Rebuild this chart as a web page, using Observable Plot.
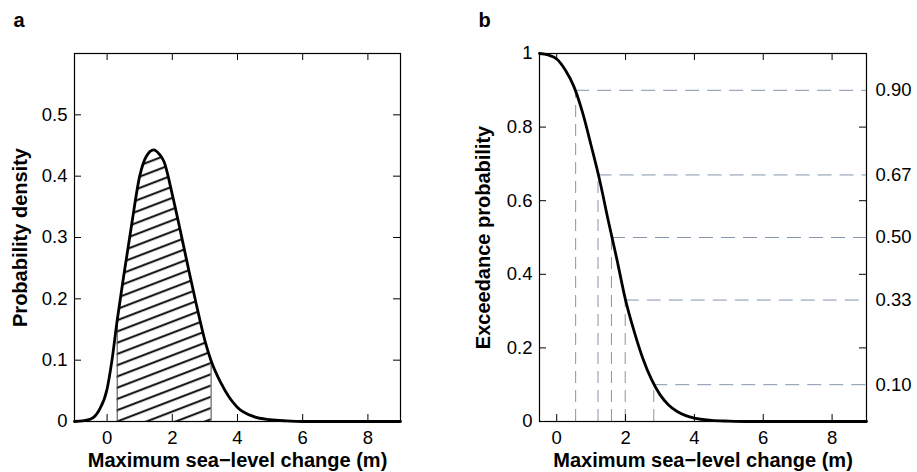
<!DOCTYPE html>
<html>
<head>
<meta charset="utf-8">
<script src="https://cdn.jsdelivr.net/npm/d3@7"></script>
<script src="https://cdn.jsdelivr.net/npm/@observablehq/plot@0.6"></script>
<style>
  html, body { margin: 0; padding: 0; background: #fff; }
  #wrap { display: flex; width: 917px; height: 472px; }
  #wrap svg { display: block; }
</style>
</head>
<body>
<svg width="0" height="0" style="position:absolute">
  <defs>
    <pattern id="hatch" patternUnits="userSpaceOnUse" width="40" height="10.5" patternTransform="rotate(-21)">
      <line x1="-5" y1="5" x2="45" y2="5" stroke="#000" stroke-width="1.7"></line>
    </pattern>
  </defs>
</svg>
<div id="wrap"></div>
<script>
// ---- Panel a: probability density ----
const densX = [-1, -0.75, -0.5, -0.25, 0, 0.15, 0.31, 0.5, 0.75, 1.0, 1.2, 1.43, 1.6, 1.75, 2.0, 2.25, 2.5, 2.75, 3.0, 3.19, 3.5, 3.75, 4.0, 4.5, 5.0, 5.5, 6, 9];
const densY = [0, 0.001, 0.004, 0.018, 0.053, 0.1, 0.165, 0.234, 0.32, 0.40, 0.432, 0.443, 0.436, 0.423, 0.37, 0.31, 0.248, 0.188, 0.132, 0.099, 0.062, 0.039, 0.023, 0.008, 0.003, 0.001, 0, 0];
const hatchRange = [0.31, 3.19];
const xDomainA = [-1, 9];
const yDomainA = [0, 0.6];
const xTicks = [0, 2, 4, 6, 8];
const xTickLabels = ["0", "2", "4", "6", "8"];
const yTicksA = [0, 0.1, 0.2, 0.3, 0.4, 0.5];
const yTickLabelsA = ["0", "0.1", "0.2", "0.3", "0.4", "0.5"];

// ---- Panel b: exceedance probability ----
const exX = [-0.5, -0.25, 0, 0.25, 0.5, 0.75, 1.0, 1.25, 1.5, 1.75, 2.0, 2.25, 2.5, 2.75, 3.0, 3.25, 3.5, 3.75, 4.0, 4.5, 5.0, 5.5, 9];
const exY = [1.0, 0.996, 0.985, 0.955, 0.91, 0.84, 0.75, 0.655, 0.545, 0.44, 0.33, 0.245, 0.172, 0.115, 0.073, 0.045, 0.027, 0.016, 0.009, 0.003, 0.001, 0, 0];
const xDomainB = [-0.5, 9];
const yDomainB = [0, 1];
const yTicksB = [0, 0.2, 0.4, 0.6, 0.8, 1];
const yTickLabelsB = ["0", "0.2", "0.4", "0.6", "0.8", "1"];
const qLevels = [0.90, 0.67, 0.50, 0.33, 0.10];
const qX = [0.55, 1.20, 1.59, 1.99, 2.82];
const qLabels = ["0.90", "0.67", "0.50", "0.33", "0.10"];

const xTitle = "Maximum sea\u2212level change (m)";
const yTitleA = "Probability density";
const yTitleB = "Exceedance probability";

const dens = densX.map((x, i) => ({x, y: densY[i]}));
const exc = exX.map((x, i) => ({x, y: exY[i]}));
const quant = qLevels.map((p, i) => ({p, x: qX[i], label: qLabels[i]}));

const FONT = "'Liberation Sans', Arial, Helvetica, sans-serif";
const H = 472, MT = 53, MB = 51;
const PH = H - MT - MB;
const DASH = "#8496ab";

function panel({width, ml, mr, xDomain, yDomain, yTicks, yLabels, yTitle, yTitleDx, letter, marks}) {
  const PW = width - ml - mr;
  const yInner = yTicks.filter(v => v > yDomain[0] && v < yDomain[1]);
  return Plot.plot({
    width, height: H,
    marginLeft: ml, marginRight: mr, marginTop: MT, marginBottom: MB,
    x: {domain: xDomain},
    y: {domain: yDomain},
    style: {fontFamily: FONT, fontSize: "19px", color: "#000", background: "#fff", overflow: "visible"},
    marks: [
      ...marks,
      Plot.frame({stroke: "#000", strokeWidth: 1.2}),
      Plot.tickX(xTicks, {x: d => d, insetTop: PH - 7, stroke: "#000"}),
      Plot.tickX(xTicks, {x: d => d, insetBottom: PH - 7, stroke: "#000"}),
      Plot.tickY(yInner, {y: d => d, insetRight: PW - 7, stroke: "#000"}),
      Plot.tickY(yInner, {y: d => d, insetLeft: PW - 7, stroke: "#000"}),
      Plot.axisX({ticks: xTicks, tickSize: 0, tickPadding: 9, label: null, tickFormat: d => xTickLabels[xTicks.indexOf(d)], fontSize: 18.5}),
      Plot.axisY({ticks: yTicks, tickSize: 0, tickPadding: 7, label: null, tickFormat: d => yLabels[yTicks.indexOf(d)], fontSize: 18.5}),
      Plot.text([xTitle], {frameAnchor: "bottom", textAnchor: "middle", lineAnchor: "top", dy: 31, fontWeight: "bold", fontSize: 20, text: d => d}),
      Plot.text([yTitle], {frameAnchor: "left", textAnchor: "middle", lineAnchor: "middle", rotate: -90, dx: yTitleDx, fontWeight: "bold", fontSize: 20, text: d => d}),
      Plot.text([letter], {frameAnchor: "top-left", lineAnchor: "top", textAnchor: "start", dx: -61, dy: -41, fontWeight: "bold", fontSize: 20, text: d => d})
    ]
  });
}

const hatched = dens.filter(d => d.x >= hatchRange[0] && d.x <= hatchRange[1]);
const bounds = dens.filter(d => d.x === hatchRange[0] || d.x === hatchRange[1]);

const a = panel({
  width: 458, ml: 74, mr: 58, xDomain: xDomainA, yDomain: yDomainA,
  yTicks: yTicksA, yLabels: yTickLabelsA, yTitle: yTitleA, yTitleDx: -54, letter: "a",
  marks: [
    Plot.areaY(hatched, {x: "x", y: "y", fill: "url(#hatch)", curve: "monotone-x"}),
    Plot.ruleX(bounds, {x: "x", y1: 0, y2: "y", stroke: "#444", strokeWidth: 1}),
    Plot.line(dens, {x: "x", y: "y", curve: "monotone-x", stroke: "#000", strokeWidth: 2.8})
  ]
});

const b = panel({
  width: 459, ml: 81, mr: 51, xDomain: xDomainB, yDomain: yDomainB,
  yTicks: yTicksB, yLabels: yTickLabelsB, yTitle: yTitleB, yTitleDx: -56, letter: "b",
  marks: [
    Plot.ruleY(quant, {y: "p", x1: "x", x2: () => xDomainB[1], stroke: DASH, strokeWidth: 1, strokeDasharray: "14,8"}),
    Plot.ruleX(quant, {x: "x", y1: () => yDomainB[0], y2: "p", stroke: DASH, strokeWidth: 1, strokeDasharray: "12,7"}),
    Plot.line(exc, {x: "x", y: "y", curve: "monotone-x", stroke: "#000", strokeWidth: 2.8}),
    Plot.text(quant, {y: "p", text: "label", frameAnchor: "right", textAnchor: "start", dx: 9, fontSize: 18.5})
  ]
});

const wrap = document.getElementById("wrap");
wrap.appendChild(a);
wrap.appendChild(b);
</script>
</body>
</html>
